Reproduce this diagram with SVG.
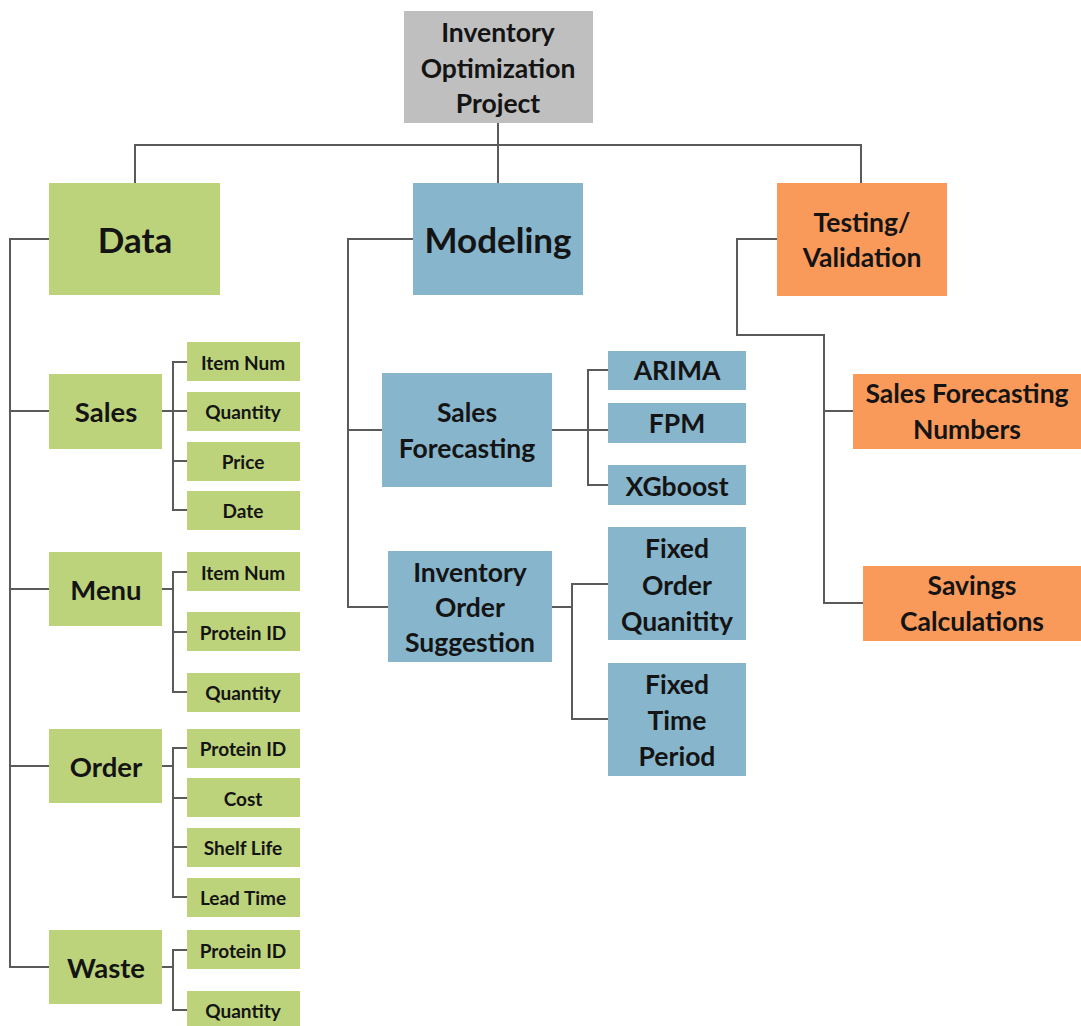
<svg xmlns="http://www.w3.org/2000/svg" width="1081" height="1026" viewBox="0 0 1081 1026">
<style>
text{font-family:Lato,"Open Sans","Liberation Sans",sans-serif;font-weight:bold;fill:#141414;text-anchor:middle;dominant-baseline:central}
.g{fill:#BDD37B}
.b{fill:#87B5CC}
.o{fill:#FA9A5A}
.r{fill:#BFBFBF}
.t1{font-size:35px}
.t2{font-size:26.5px}
.t3{font-size:27.5px}
.t4{font-size:19px}
.con path{fill:none;stroke:#5a5a5a;stroke-width:2}
</style>
<rect width="1081" height="1026" fill="#fff"/>
<g class="con" id="connectors">
<path d="M498,123 V183"/>
<path d="M135,183 V145 H861 V183"/>
<path d="M49,239 H10 V967 H49"/>
<path d="M10,411 H49"/>
<path d="M10,589 H49"/>
<path d="M10,766 H49"/>
<path d="M162,411 H187"/>
<path d="M187,362 H173 V510 H187"/>
<path d="M173,461 H187"/>
<path d="M162,589 H173"/>
<path d="M187,572 H173 V692 H187"/>
<path d="M173,632 H187"/>
<path d="M162,766 H173"/>
<path d="M187,748 H173 V897 H187"/>
<path d="M173,798 H187"/>
<path d="M173,847 H187"/>
<path d="M162,967 H173"/>
<path d="M187,950 H173 V1010 H187"/>
<path d="M413,239 H348 V607 H388"/>
<path d="M348,430 H382"/>
<path d="M552,430 H608"/>
<path d="M608,370 H588 V485 H608"/>
<path d="M552,607 H572"/>
<path d="M608,584 H572 V719 H608"/>
<path d="M777,239 H737 V335 H824 V603 H863"/>
<path d="M824,411 H853"/>
</g>
<g id="root"><rect class="r" x="404" y="11" width="189" height="112"/><text class="t2" x="498" y="32">Inventory</text><text class="t2" x="498" y="68">Optimization</text><text class="t2" x="498" y="103">Project</text></g>
<g id="data"><rect class="g" x="49" y="183" width="171" height="112"/><text class="t1" x="135" y="239">Data</text></g>
<g id="modeling"><rect class="b" x="413" y="183" width="170" height="112"/><text class="t1" x="498" y="239">Modeling</text></g>
<g id="testing"><rect class="o" x="777" y="183" width="170" height="113"/><text class="t2" x="862" y="222">Testing/</text><text class="t2" x="862" y="257">Validation</text></g>
<g id="sales"><rect class="g" x="49" y="374" width="113" height="75"/><text class="t3" x="106" y="411">Sales</text></g>
<g id="sales-item"><rect class="g" x="187" y="342" width="113" height="39"/><text class="t4" x="243" y="362">Item Num</text></g>
<g id="sales-qty"><rect class="g" x="187" y="392" width="113" height="39"/><text class="t4" x="243" y="411">Quantity</text></g>
<g id="sales-price"><rect class="g" x="187" y="442" width="113" height="39"/><text class="t4" x="243" y="461">Price</text></g>
<g id="sales-date"><rect class="g" x="187" y="491" width="113" height="39"/><text class="t4" x="243" y="510">Date</text></g>
<g id="menu"><rect class="g" x="49" y="552" width="113" height="74"/><text class="t3" x="106" y="589">Menu</text></g>
<g id="menu-item"><rect class="g" x="187" y="552" width="113" height="39"/><text class="t4" x="243" y="572">Item Num</text></g>
<g id="menu-protein"><rect class="g" x="187" y="612" width="113" height="39"/><text class="t4" x="243" y="632">Protein ID</text></g>
<g id="menu-qty"><rect class="g" x="187" y="673" width="113" height="39"/><text class="t4" x="243" y="692">Quantity</text></g>
<g id="order"><rect class="g" x="49" y="729" width="113" height="74"/><text class="t3" x="106" y="766">Order</text></g>
<g id="order-protein"><rect class="g" x="187" y="729" width="113" height="39"/><text class="t4" x="243" y="748">Protein ID</text></g>
<g id="order-cost"><rect class="g" x="187" y="778" width="113" height="39"/><text class="t4" x="243" y="798">Cost</text></g>
<g id="order-shelf"><rect class="g" x="187" y="828" width="113" height="39"/><text class="t4" x="243" y="847">Shelf Life</text></g>
<g id="order-lead"><rect class="g" x="187" y="878" width="113" height="39"/><text class="t4" x="243" y="897">Lead Time</text></g>
<g id="waste"><rect class="g" x="49" y="930" width="113" height="74"/><text class="t3" x="106" y="967">Waste</text></g>
<g id="waste-protein"><rect class="g" x="187" y="930" width="113" height="39"/><text class="t4" x="243" y="950">Protein ID</text></g>
<g id="waste-qty"><rect class="g" x="187" y="991" width="113" height="39"/><text class="t4" x="243" y="1010">Quantity</text></g>
<g id="sales-forecasting"><rect class="b" x="382" y="373" width="170" height="114"/><text class="t2" x="467" y="412">Sales</text><text class="t2" x="467" y="448">Forecasting</text></g>
<g id="arima"><rect class="b" x="608" y="351" width="138" height="39"/><text class="t2" x="677" y="370">ARIMA</text></g>
<g id="fpm"><rect class="b" x="608" y="403" width="138" height="40"/><text class="t2" x="677" y="423">FPM</text></g>
<g id="xgboost"><rect class="b" x="608" y="465" width="138" height="40"/><text class="t2" x="677" y="486">XGboost</text></g>
<g id="inventory-order"><rect class="b" x="388" y="551" width="164" height="111"/><text class="t2" x="470" y="572">Inventory</text><text class="t2" x="470" y="607">Order</text><text class="t2" x="470" y="642">Suggestion</text></g>
<g id="fixed-order"><rect class="b" x="608" y="527" width="138" height="113"/><text class="t2" x="677" y="548">Fixed</text><text class="t2" x="677" y="585">Order</text><text class="t2" x="677" y="621">Quanitity</text></g>
<g id="fixed-time"><rect class="b" x="608" y="663" width="138" height="113"/><text class="t2" x="677" y="684">Fixed</text><text class="t2" x="677" y="720">Time</text><text class="t2" x="677" y="756">Period</text></g>
<g id="sales-numbers"><rect class="o" x="853" y="374" width="228" height="75"/><text class="t2" x="967" y="393">Sales Forecasting</text><text class="t2" x="967" y="429">Numbers</text></g>
<g id="savings"><rect class="o" x="863" y="566" width="218" height="75"/><text class="t2" x="972" y="585">Savings</text><text class="t2" x="972" y="621">Calculations</text></g>
</svg>
